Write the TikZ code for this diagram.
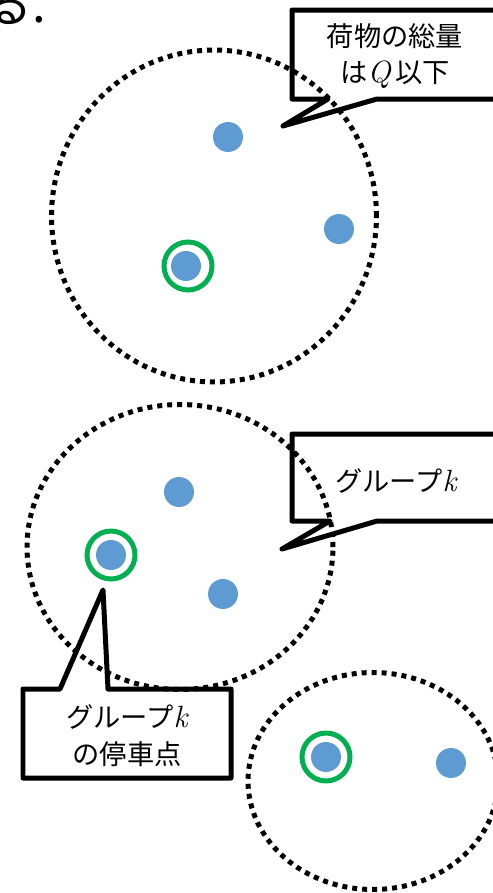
\documentclass[tikz,border=0pt]{standalone}
\usepackage{fontspec}
\setmainfont{Noto Sans CJK JP}
\newfontfamily\lmrfont{Latin Modern Roman}
\newcommand\mvar[1]{{\lmrfont\itshape\fontsize{17.5}{21}\selectfont #1}}
\usetikzlibrary{shapes.geometric}
\definecolor{dotblue}{HTML}{5F9BD3}
\definecolor{ringgreen}{HTML}{00B050}
\tikzset{
  px/.style={x=0.02cm,y=-0.02cm},
  grp/.style={draw=black,line width=0.1cm,dash pattern=on 0.1cm off 0.1cm,ellipse,inner sep=0pt},
  pt/.style={circle,fill=dotblue,minimum size=0.6cm,inner sep=0pt},
  ring/.style={circle,draw=ringgreen,line width=0.1cm,minimum size=0.96cm,inner sep=0pt},
  callout/.style={draw=black,line width=0.1cm,line join=round},
  ctext/.style={align=center,inner sep=0pt,font=\fontsize{15.5}{21}\selectfont},
}
\begin{document}
\begin{tikzpicture}[px]
\useasboundingbox (0,0) rectangle (493,893);
\clip (0,0) rectangle (493,893);
% partial text at top left (cut by the edge as in the reference)
\node[anchor=base east,inner sep=0pt,font=\fontsize{28}{30}\selectfont] (frag) at (47,22) {る.};
% groups
\node[grp,minimum width=6.5cm,minimum height=6.64cm] (g1) at (214,216) {};
\node[grp,minimum width=6.12cm,minimum height=5.7cm] (g2) at (180,547) {};
\node[grp,minimum width=5cm,minimum height=4.34cm] (g3) at (373,781) {};
% points group 1
\node[pt] (p11) at (228,137) {};
\node[pt] (p12) at (339,229) {};
\node[pt] (p13) at (186,266) {};
\node[ring] (r1) at (188,266) {};
% points group 2
\node[pt] (p21) at (179,492) {};
\node[pt] (p22) at (111,555) {};
\node[ring] (r2) at (111,555) {};
\node[pt] (p23) at (223,594) {};
% points group 3
\node[pt] (p31) at (326,757) {};
\node[ring] (r3) at (326,757) {};
\node[pt] (p32) at (451,763) {};
% callout 1
\coordinate (t1) at (283,126);
\draw[callout] (292,99) -- (292,10) -- (520,10) -- (520,99) -- (377,99) -- (t1) -- (328,99) -- cycle;
\node[ctext] (c1) at (395,56) {荷物の総量\\は\mvar{Q}\,以下};
% callout 2
\coordinate (t2) at (282,549);
\draw[callout] (292,521) -- (292,434) -- (520,434) -- (520,521) -- (377,521) -- (t2) -- (330,521) -- cycle;
\node[ctext] (c2) at (396,481) {グループ\mvar{k}};
% callout 3
\coordinate (t3) at (103,590);
\draw[callout] (23,689) -- (60,689) -- (t3) -- (108,689) -- (231,689) -- (231,778) -- (23,778) -- cycle;
\node[ctext] (c3) at (127,736) {グループ\mvar{k}\\の停車点};
\end{tikzpicture}
\end{document}
